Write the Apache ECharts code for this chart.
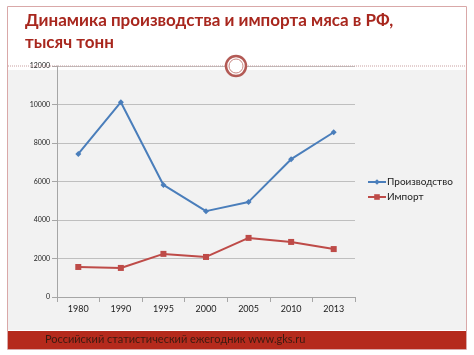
<!DOCTYPE html>
<html><head><meta charset="utf-8">
<script src="https://cdn.jsdelivr.net/npm/echarts@6/dist/echarts.min.js"></script>
<style>html,body{margin:0;padding:0;background:#fff}#c{width:474px;height:355px}</style>
</head><body><div id="c"></div>
<script>
const categories = ['1980','1990','1995','2000','2005','2010','2013'];
const production = [7430, 10120, 5820, 4460, 4940, 7160, 8560];
const imports = [1560, 1510, 2240, 2080, 3070, 2860, 2490];
const yTicks = [0, 2000, 4000, 6000, 8000, 10000, 12000];
const seriesNames = ['Производство', 'Импорт'];
const titleText = 'Динамика производства и импорта мяса в РФ,\nтысяч тонн';
const footerText = 'Российский статистический ежегодник www.gks.ru';

const chart = echarts.init(document.getElementById('c'));
const font = 'Lato, "Open Sans", sans-serif';
chart.setOption({
  animation: false,
  textStyle: {fontFamily: font},
  graphic: [
    {type:'rect', z:-10, shape:{x:8,y:70,width:458,height:260}, style:{fill:'#f2f2f2'}},
    {type:'rect', z:-5, shape:{x:7.5,y:6.5,width:459,height:343}, style:{fill:'none',stroke:'#d9a8a8',lineWidth:1}},
    {type:'line', z:5, shape:{x1:8,y1:66,x2:466,y2:66}, style:{stroke:'#c9a0a0',lineWidth:1,lineDash:[1,1]}},
    {type:'circle', z:10, shape:{cx:236,cy:66,r:10}, style:{fill:'#ffffff',stroke:'#b35a55',lineWidth:2.5}},
    {type:'circle', z:11, shape:{cx:236,cy:66,r:7}, style:{fill:'#ffffff',stroke:'#c98a85',lineWidth:1}},
    {type:'rect', z:-5, shape:{x:8,y:331,width:458,height:18}, style:{fill:'#b52a1c'}},
    {type:'text', z:12, left:45, top:334, style:{text:footerText, fill:'#3a1a10', font:'11px ' + font}},
    {type:'text', z:12, left:25, top:10, style:{text:titleText, fill:'#a8271e', font:'bold 17px ' + font, lineHeight:22}}
  ],
  grid: {left:57, right:119, top:66, bottom:58},
  legend: {
    orient:'vertical', left:362, top:172, itemGap:5, itemWidth:18, itemHeight:7, itemStyle:{borderWidth:0},
    textStyle:{fontSize:10, color:'#222', fontFamily:font, padding:[0,0,0,-4]},
    data: seriesNames
  },
  xAxis: {
    type:'category', data:categories,
    axisLine:{lineStyle:{color:'#a6a6a6'}},
    axisTick:{show:true, lineStyle:{color:'#a6a6a6'}},
    axisLabel:{fontSize:9, color:'#222', margin:8}
  },
  yAxis: {
    type:'value', min:0, max:12000, interval:2000,
    axisLine:{show:true, lineStyle:{color:'#a6a6a6'}},
    axisTick:{show:true, lineStyle:{color:'#a6a6a6'}},
    axisLabel:{fontSize:7, color:'#222', margin:7, formatter: v => String(v)},
    splitLine:{lineStyle:{color:'#bfbfbf'}}
  },
  series: [
    {name:seriesNames[0], type:'line', data:production, symbol:'diamond', symbolSize:6,
     lineStyle:{color:'#4a7ebb', width:2}, itemStyle:{color:'#4a7ebb'}},
    {name:seriesNames[1], type:'line', data:imports, symbol:'rect', symbolSize:6,
     lineStyle:{color:'#be4b48', width:2}, itemStyle:{color:'#be4b48'}}
  ]
});
</script></body></html>
